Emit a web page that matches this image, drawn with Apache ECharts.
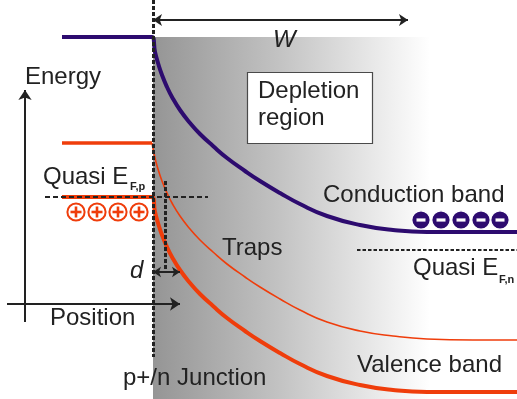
<!DOCTYPE html>
<html>
<head>
<meta charset="utf-8">
<script src="https://cdn.jsdelivr.net/npm/echarts@6/dist/echarts.min.js"></script>
<style>
  html, body { margin: 0; padding: 0; background: #ffffff; }
  #chart { width: 517px; height: 399px; }
</style>
</head>
<body>
<div id="chart"></div>
<script>
// Band diagram of a p+/n junction under bias.
// x: position across the device, y: electron energy (axis drawn downward).

const conductionBand = [
  [62, 37], [152, 37], [155, 52], [158, 63], [162, 75], [167, 87], [172, 97],
  [180, 110], [190, 123], [200, 134], [213, 146], [227, 158], [245, 171],
  [260, 181], [280, 193], [300, 204], [327, 216], [360, 225], [393, 230],
  [427, 232], [473, 232], [517, 232]
];
const pSideTrapLevel = [[62, 143], [152, 143]];
const trapLevel = [
  [152, 143], [155, 158], [158, 169], [162, 181], [167, 193], [172, 203],
  [180, 216], [190, 229], [200, 240], [213, 252], [227, 264], [245, 277],
  [260, 287], [280, 299], [300, 310], [327, 322], [360, 331], [393, 336],
  [427, 339], [473, 340], [517, 340]
];
const valenceBand = [
  [62, 197], [152, 197], [155, 212], [158, 223], [162, 235], [167, 247],
  [172, 257], [180, 270], [190, 283], [200, 294], [213, 306], [227, 318],
  [245, 331], [260, 341], [280, 353], [300, 364], [327, 376], [360, 385],
  [393, 390], [427, 392], [473, 392], [517, 392]
];
const holes = [[76, 212], [97, 212], [118, 212], [139, 212]];
const electrons = [[421, 220], [441, 220], [461, 220], [481, 220], [500, 220]];

const junctionLine = [[153, 0], [153, 357]];
const trapDepthLine = [[165, 181], [165, 271]];
const quasiFermiP = [[45, 197], [208, 197]];
const quasiFermiN = [[357, 250], [517, 250]];
const widthArrow = [[153, 20], [408, 20]];
const depthArrow = [[153, 272], [180, 272]];
const energyAxis = [[25, 322], [25, 90]];
const positionAxis = [[7, 304], [180, 304]];
const depletionRegion = [153, 37, 430, 399];
const depletionBox = [247, 72, 372, 143];

const labels = [
  { text: 'Energy', at: [25, 77] },
  { text: 'Quasi E', at: [43, 177] },
  { text: 'F,p', at: [130, 187], sub: true },
  { text: 'W', at: [273, 40], italic: true },
  { text: 'Depletion', at: [258, 91] },
  { text: 'region', at: [258, 118] },
  { text: 'Traps', at: [222, 248] },
  { text: 'd', at: [130, 271], italic: true },
  { text: 'Position', at: [50, 318] },
  { text: 'p+/n Junction', at: [123, 378] },
  { text: 'Conduction band', at: [323, 195] },
  { text: 'Quasi E', at: [413, 268] },
  { text: 'F,n', at: [499, 280], sub: true },
  { text: 'Valence band', at: [357, 365] }
];

const PURPLE = '#2d0b6f';
const ORANGE = '#ef3d0b';
const INK = '#222222';
const FONT = '"Liberation Sans", Arial, sans-serif';

const chart = echarts.init(document.getElementById('chart'), null, { renderer: 'canvas' });

function segment(coords, color, width, dash, symbols, size) {
  return {
    type: 'lines',
    coordinateSystem: 'cartesian2d',
    polyline: false,
    silent: true,
    z: 5,
    symbol: symbols || ['none', 'none'],
    symbolSize: size || 10,
    lineStyle: { color: color, width: width, type: dash || 'solid', opacity: 1 },
    data: [{ coords: coords }]
  };
}

function band(data, color, width) {
  return {
    type: 'line',
    data: data,
    showSymbol: false,
    smooth: 0.5,
    z: 4,
    silent: true,
    lineStyle: { color: color, width: width, cap: 'butt', join: 'round' }
  };
}

chart.setOption({
  animation: false,
  backgroundColor: '#ffffff',
  grid: { left: 0, right: 0, top: 0, bottom: 0 },
  xAxis: { type: 'value', min: 0, max: 517, show: false },
  yAxis: { type: 'value', min: 0, max: 399, inverse: true, show: false },
  series: [
    {
      // shaded depletion region
      type: 'custom',
      z: 1,
      silent: true,
      data: [depletionRegion],
      renderItem: function (params, api) {
        const a = api.coord([api.value(0), api.value(1)]);
        const b = api.coord([api.value(2), api.value(3)]);
        return {
          type: 'rect',
          shape: { x: a[0], y: a[1], width: b[0] - a[0], height: b[1] - a[1] },
          style: {
            fill: new echarts.graphic.LinearGradient(0, 0, 1, 0, [
              { offset: 0, color: '#959595' },
              { offset: 0.45, color: '#c2c2c2' },
              { offset: 1, color: '#ffffff' }
            ])
          }
        };
      }
    },
    {
      // label box
      type: 'custom',
      z: 2,
      silent: true,
      data: [depletionBox],
      renderItem: function (params, api) {
        const a = api.coord([api.value(0), api.value(1)]);
        const b = api.coord([api.value(2), api.value(3)]);
        return {
          type: 'rect',
          shape: { x: a[0] + 0.5, y: a[1] + 0.5, width: b[0] - a[0], height: b[1] - a[1] },
          style: { fill: '#ffffff', stroke: '#4a4a4a', lineWidth: 1.2 }
        };
      }
    },
    band(conductionBand, PURPLE, 4),
    band(pSideTrapLevel, ORANGE, 3.5),
    band(trapLevel, ORANGE, 1.6),
    band(valenceBand, ORANGE, 4),
    segment(junctionLine, INK, 3, [4, 2]),
    segment(trapDepthLine, INK, 3, [4, 2]),
    segment(quasiFermiP, INK, 2, [5, 3]),
    segment(quasiFermiN, INK, 2, [3.5, 2]),
    segment(widthArrow, INK, 2, 'solid', ['arrow', 'arrow'], [9, 9]),
    segment(depthArrow, INK, 2, 'solid', ['arrow', 'arrow'], [8, 8]),
    segment(energyAxis, INK, 2, 'solid', ['none', 'arrow'], [0, 10]),
    segment(positionAxis, INK, 2, 'solid', ['none', 'arrow'], [0, 10]),
    {
      // holes on the p side
      type: 'custom',
      z: 6,
      silent: true,
      data: holes,
      renderItem: function (params, api) {
        const p = api.coord([api.value(0), api.value(1)]);
        return {
          type: 'group',
          children: [
            { type: 'circle', shape: { cx: p[0], cy: p[1], r: 8.6 }, style: { fill: '#ffffff', stroke: ORANGE, lineWidth: 2 } },
            { type: 'line', shape: { x1: p[0] - 5.5, y1: p[1], x2: p[0] + 5.5, y2: p[1] }, style: { stroke: ORANGE, lineWidth: 2.6 } },
            { type: 'line', shape: { x1: p[0], y1: p[1] - 5.5, x2: p[0], y2: p[1] + 5.5 }, style: { stroke: ORANGE, lineWidth: 2.6 } }
          ]
        };
      }
    },
    {
      // electrons on the n side
      type: 'custom',
      z: 6,
      silent: true,
      data: electrons,
      renderItem: function (params, api) {
        const p = api.coord([api.value(0), api.value(1)]);
        return {
          type: 'group',
          children: [
            { type: 'circle', shape: { cx: p[0], cy: p[1], r: 9.2 }, style: { fill: PURPLE, stroke: '#ffffff', lineWidth: 1.2 } },
            { type: 'rect', shape: { x: p[0] - 4.5, y: p[1] - 1.6, width: 9, height: 3.2 }, style: { fill: '#ffffff' } }
          ]
        };
      }
    },
    {
      // text annotations
      type: 'custom',
      z: 7,
      silent: true,
      data: labels.map(function (l) { return l.at; }),
      renderItem: function (params, api) {
        const l = labels[params.dataIndex];
        const p = api.coord([api.value(0), api.value(1)]);
        const font = l.sub
          ? 'bold 11px ' + FONT
          : (l.italic ? 'italic ' : '') + '24px ' + FONT;
        return {
          type: 'text',
          x: p[0],
          y: p[1],
          style: { text: l.text, font: font, fill: INK, align: 'left', verticalAlign: 'middle' }
        };
      }
    }
  ]
});
</script>
</body>
</html>
